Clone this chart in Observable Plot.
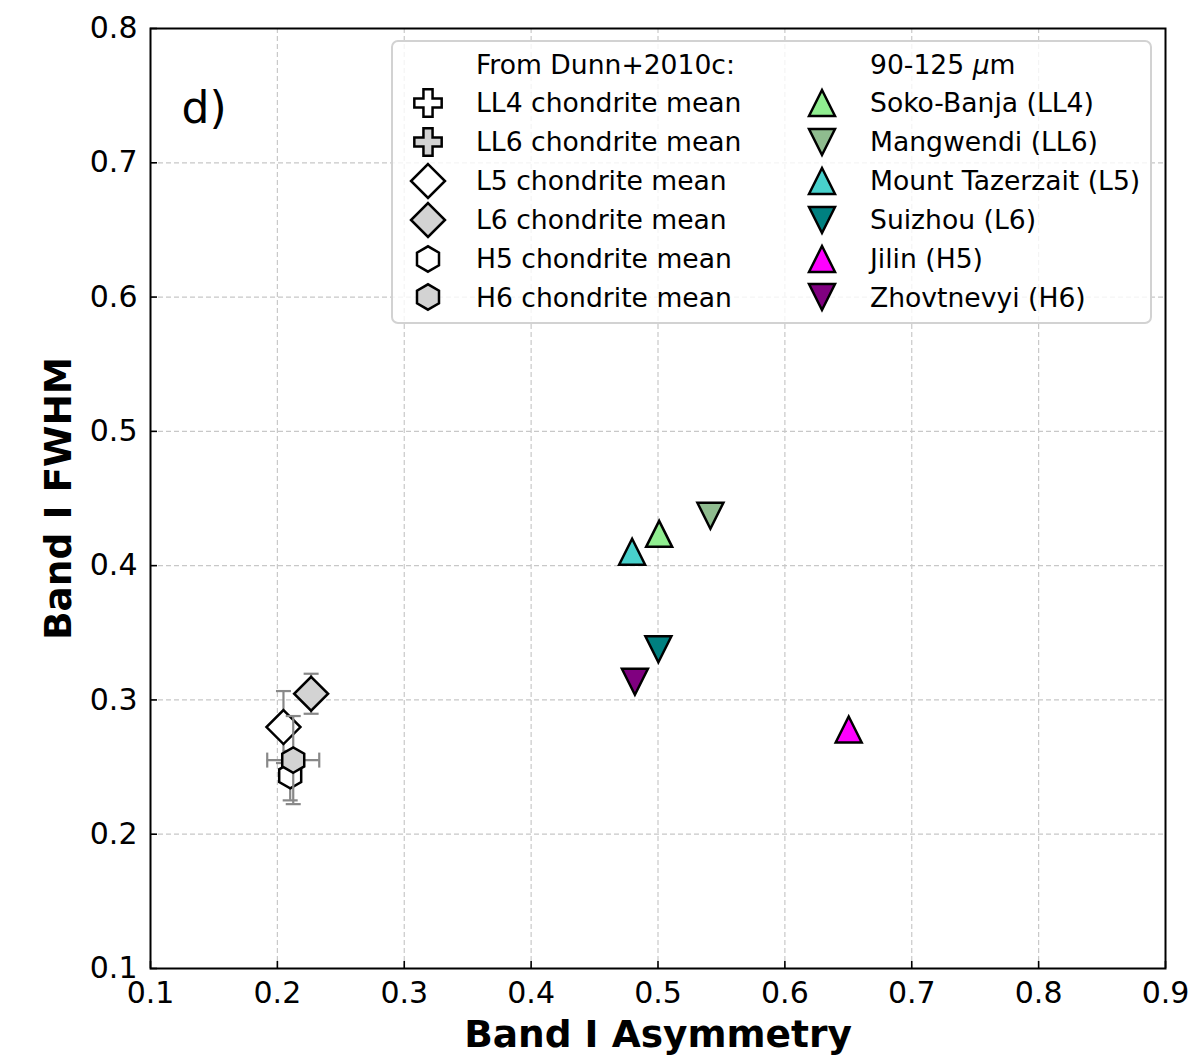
<!DOCTYPE html>
<html>
<head>
<meta charset="utf-8">
<script src="https://cdn.jsdelivr.net/npm/d3@7"></script>
<script src="https://cdn.jsdelivr.net/npm/@observablehq/plot@0.6"></script>
<style>
  body { margin: 0; background: #fff; font-family: "DejaVu Sans", sans-serif; }
  #wrap { position: relative; width: 1193px; height: 1058px; overflow: hidden; }
  #legend { position: absolute; left: 391px; top: 40px; width: 761px; height: 284px; box-sizing: border-box;
            border: 2px solid #d2d2d2; border-radius: 7px; background: rgba(255,255,255,0.8); }
  .row { position: absolute; height: 39px; display: flex; align-items: center; font-size: 26.6px; color: #000; white-space: pre; }
  .sym { position: absolute; }
</style>
</head>
<body>
<div id="wrap"></div>
<script>
// ---------------- data ----------------
const xTicks = [0.1, 0.2, 0.3, 0.4, 0.5, 0.6, 0.7, 0.8, 0.9];
const yTicks = [0.1, 0.2, 0.3, 0.4, 0.5, 0.6, 0.7, 0.8];

const chondriteHeader = "From Dunn+2010c:";
const chondriteNames = ["LL4 chondrite mean", "LL6 chondrite mean", "L5 chondrite mean",
                        "L6 chondrite mean", "H5 chondrite mean", "H6 chondrite mean"];
const chondriteX    = [null, null, 0.2048, 0.2266, 0.2101, 0.2125];
const chondriteY    = [null, null, 0.2798, 0.3046, 0.2436, 0.2552];
const chondriteXErr = [null, null, 0, 0, 0, 0.0205];
const chondriteYErr = [null, null, 0.0268, 0.0149, 0.0184, 0.0328];

const meteoriteHeader = "90-125 ";
const meteoriteNames = ["Soko-Banja (LL4)", "Mangwendi (LL6)", "Mount Tazerzait (L5)",
                        "Suizhou (L6)", "Jilin (H5)", "Zhovtnevyi (H6)"];
const meteoriteX = [0.5009, 0.5413, 0.4796, 0.5003, 0.6503, 0.4818];
const meteoriteY = [0.4237, 0.4372, 0.4103, 0.3377, 0.2780, 0.3135];

// ---------------- styles ----------------
const chondriteFill  = ["white", "lightgray", "white", "lightgray", "white", "lightgray"];
const chondriteShape = ["plus", "plus", "diamond", "diamond", "hexagon", "hexagon"];
const meteoriteFill  = ["lightgreen", "darkseagreen", "mediumturquoise", "teal", "magenta", "purple"];
const meteoriteShape = ["up", "down", "up", "down", "up", "down"];

const xLabel = "Band I Asymmetry";
const yLabel = "Band I FWHM";
const panelLabel = "d)";

const sqrt3 = Math.sqrt(3);
const triUp = {draw(ctx, size) { const s = Math.sqrt(size / Math.PI);
  ctx.moveTo(0, -s); ctx.lineTo(s, s); ctx.lineTo(-s, s); ctx.closePath(); }};
const triDown = {draw(ctx, size) { const s = Math.sqrt(size / Math.PI);
  ctx.moveTo(0, s); ctx.lineTo(s, -s); ctx.lineTo(-s, -s); ctx.closePath(); }};
const hexagon = {draw(ctx, size) { const rx = Math.sqrt(size / Math.PI), ry = rx * 2 / sqrt3, hy = ry / 2;
  ctx.moveTo(0, ry); ctx.lineTo(rx, hy); ctx.lineTo(rx, -hy); ctx.lineTo(0, -ry);
  ctx.lineTo(-rx, -hy); ctx.lineTo(-rx, hy); ctx.closePath(); }};
const hCap = {draw(ctx, size) { const s = Math.sqrt(size / Math.PI); ctx.moveTo(-s, 0); ctx.lineTo(s, 0); }};
const vCap = {draw(ctx, size) { const s = Math.sqrt(size / Math.PI); ctx.moveTo(0, -s); ctx.lineTo(0, s); }};
const shapes = {plus: d3.symbolCross, diamond: d3.symbolDiamond2, hexagon: hexagon, up: triUp, down: triDown};
const shapeR = {plus: 11.5, diamond: 15.3, hexagon: 11, up: 13, down: 13};

const errColor = "#888888";
const edgeW = 2.5;

// ---------------- tables ----------------
const chondrites = chondriteNames.map((name, i) => ({
  name, x: chondriteX[i], y: chondriteY[i], xerr: chondriteXErr[i], yerr: chondriteYErr[i],
  fill: chondriteFill[i], shape: chondriteShape[i]
}));
const meteorites = meteoriteNames.map((name, i) => ({
  name, x: meteoriteX[i], y: meteoriteY[i], fill: meteoriteFill[i], shape: meteoriteShape[i]
}));

const chondriteMarks = chondrites.filter(d => d.x != null).flatMap(d => {
  const m = [];
  if (d.yerr) {
    m.push(Plot.ruleX([d], {x: "x", y1: e => e.y - e.yerr, y2: e => e.y + e.yerr, stroke: errColor, strokeWidth: 2.2}));
    m.push(Plot.dot([d, d], {x: "x", y: (e, j) => j ? e.y + e.yerr : e.y - e.yerr, symbol: hCap, r: 7.5,
      fill: "none", stroke: errColor, strokeWidth: 2.2}));
  }
  if (d.xerr) {
    m.push(Plot.ruleY([d], {y: "y", x1: e => e.x - e.xerr, x2: e => e.x + e.xerr, stroke: errColor, strokeWidth: 2.2}));
    m.push(Plot.dot([d, d], {y: "y", x: (e, j) => j ? e.x + e.xerr : e.x - e.xerr, symbol: vCap, r: 7.5,
      fill: "none", stroke: errColor, strokeWidth: 2.2}));
  }
  m.push(Plot.dot([d], {x: "x", y: "y", symbol: shapes[d.shape], r: shapeR[d.shape],
    fill: d.fill, stroke: "black", strokeWidth: edgeW}));
  return m;
});

const meteoriteMarks = ["up", "down"].map(s =>
  Plot.dot(meteorites.filter(d => d.shape === s), {x: "x", y: "y", symbol: shapes[s], r: shapeR[s],
    fill: "fill", stroke: "black", strokeWidth: edgeW}));

const chart = Plot.plot({
  width: 1193, height: 1058,
  marginTop: 28, marginLeft: 150, marginRight: 28, marginBottom: 90,
  x: {domain: [0.1, 0.9]},
  y: {domain: [0.1, 0.8]},
  color: {type: "identity"},
  style: {fontFamily: '"DejaVu Sans", sans-serif', fontSize: "30px", color: "black", background: "white", overflow: "visible"},
  marks: [
    Plot.gridX(xTicks.slice(1, -1), {stroke: "#c8c8c8", strokeOpacity: 1, strokeWidth: 1.2, strokeDasharray: "5,3"}),
    Plot.gridY(yTicks.slice(1, -1), {stroke: "#c8c8c8", strokeOpacity: 1, strokeWidth: 1.2, strokeDasharray: "5,3"}),
    Plot.axisX(xTicks, {tickSize: -7, tickPadding: 20, tickFormat: d => d.toFixed(1), label: null, strokeWidth: 1.6, fontSize: 30}),
    Plot.axisY(yTicks, {tickSize: -7, tickPadding: 20, tickFormat: d => d.toFixed(1), label: null, strokeWidth: 1.6, fontSize: 30}),
    Plot.frame({stroke: "black", strokeWidth: 2}),
    Plot.text([xLabel], {text: d => d, frameAnchor: "bottom", textAnchor: "middle", lineAnchor: "bottom", dy: 78,
      fontSize: 37.5, fontWeight: "bold"}),
    Plot.text([yLabel], {text: d => d, frameAnchor: "left", textAnchor: "middle", lineAnchor: "middle", rotate: -90, dx: -92,
      fontSize: 37.5, fontWeight: "bold"}),
    Plot.text([panelLabel], {text: d => d, frameAnchor: "top-left", textAnchor: "start", lineAnchor: "bottom", dx: 31, dy: 94,
      fontSize: 44}),
    ...chondriteMarks,
    ...meteoriteMarks
  ]
});

const wrap = document.getElementById("wrap");
wrap.appendChild(chart);

// ---------------- legend ----------------
const legend = document.createElement("div");
legend.id = "legend";
wrap.appendChild(legend);
const L0 = 391 + 2, T0 = 40 + 2;
function symbolSvg(shape, fill, cx, cy) {
  const svg = d3.create("svg").attr("class", "sym").attr("width", 44).attr("height", 44)
    .style("left", (cx - L0 - 22) + "px").style("top", (cy - T0 - 22) + "px");
  svg.append("path").attr("transform", "translate(22,22)")
    .attr("d", d3.symbol(shapes[shape], Math.PI * shapeR[shape] * shapeR[shape])())
    .attr("fill", fill).attr("stroke", "black").attr("stroke-width", edgeW);
  legend.appendChild(svg.node());
}
function row(html, x, cy) {
  const div = document.createElement("div");
  div.className = "row";
  div.style.left = (x - L0) + "px";
  div.style.top = (cy - T0 - 19.5) + "px";
  div.innerHTML = "<span>" + html + "</span>";
  legend.appendChild(div);
}
const rowY = i => 64 + i * 38.9;
row(chondriteHeader, 476, rowY(0));
row(meteoriteHeader + '<span style="font-style:italic">μ</span>m', 870, rowY(0));
chondrites.forEach((d, i) => {
  symbolSvg(d.shape, d.fill, 428, rowY(i + 1));
  row(d.name, 476, rowY(i + 1));
});
meteorites.forEach((d, i) => {
  symbolSvg(d.shape, d.fill, 822, rowY(i + 1));
  row(d.name, 870, rowY(i + 1));
});
</script>
</body>
</html>
